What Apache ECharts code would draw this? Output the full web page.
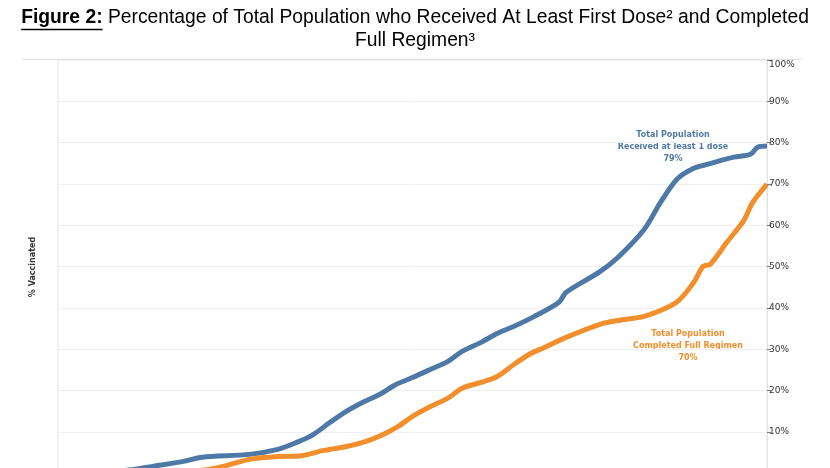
<!DOCTYPE html>
<html>
<head>
<meta charset="utf-8">
<script src="https://cdn.jsdelivr.net/npm/echarts@6/dist/echarts.min.js"></script>
<style>
html,body{margin:0;padding:0;background:#fff;}
#chart{width:830px;height:468px;}
</style>
</head>
<body>
<div id="chart"></div>
<script>
// Day index (since start of campaign) and % of total population
const firstDoseDays = [0, 18, 30, 40, 53, 61, 81, 93, 101, 108, 115, 122, 129, 136, 143, 150, 157, 165, 171, 179, 186, 193, 201, 212, 215, 229, 237, 248, 255, 262, 269, 275, 286, 293, 296, 300];
const firstDoseVals = [0, 0.3, 0.8, 1.7, 2.9, 3.9, 4.6, 5.8, 7.5, 9.4, 12.3, 15, 17.2, 19.1, 21.5, 23.2, 25, 27.1, 29.5, 31.7, 33.9, 35.6, 37.8, 41.4, 43.8, 48.7, 52.3, 59, 65.6, 71.2, 73.8, 74.8, 76.5, 77.2, 78.9, 79.2];
const fullDays = [0, 39, 60, 70, 81, 93, 102, 112, 122, 129, 136, 144, 150, 157, 165, 171, 179, 186, 193, 200, 204, 215, 229, 237, 248, 258, 263, 269, 273, 276, 283, 290, 294, 300];
const fullVals = [0, 0.2, 0.7, 1.7, 3.4, 4.1, 4.2, 5.5, 6.5, 7.5, 9, 11.4, 13.8, 16, 18.2, 20.6, 22, 23.5, 26.4, 29, 30, 32.9, 36, 37, 38, 40.2, 42, 46.2, 50.1, 50.6, 55.9, 61, 65.6, 70];
const yTicks = [0, 10, 20, 30, 40, 50, 60, 70, 80, 90, 100];
const titleBold = 'Figure 2:';
const titleRest = ' Percentage of Total Population who Received At Least First Dose² and Completed';
const titleLine2 = 'Full Regimen³';
const firstDoseLabel = ['Total Population', 'Received at least 1 dose', '79%'];
const fullLabel = ['Total Population', 'Completed Full Regimen', '70%'];

const zip = (a, b) => a.map((d, i) => [d, b[i]]);

const FS = 19.3;
const titleFont = { fontFamily: 'Liberation Sans', fontSize: FS, fontWeight: 'normal', color: '#000' };

// measure the first title line to place the underline below "Figure 2:"
const ctx = document.createElement('canvas').getContext('2d');
ctx.font = 'bold ' + FS + 'px "Liberation Sans"';
const wBold = ctx.measureText(titleBold).width;
ctx.font = FS + 'px "Liberation Sans"';
const wRest = ctx.measureText(titleRest).width;
const line1Left = 415 - (wBold + wRest) / 2;

const chart = echarts.init(document.getElementById('chart'));
chart.setOption({
  animation: false,
  backgroundColor: '#fff',
  title: [
    {
      text: '{b|' + titleBold + '}' + titleRest,
      left: 'center', top: 8, padding: 0,
      textStyle: Object.assign({}, titleFont, {
        rich: { b: Object.assign({}, titleFont, { fontWeight: 'bold' }) }
      })
    },
    {
      text: titleLine2,
      left: 'center', top: 31, padding: 0,
      textStyle: titleFont
    }
  ],
  grid: {
    left: 58, width: 709, top: 60, height: 413.4,
    outerBoundsMode: 'none',
    containLabel: false,
    show: true, borderColor: '#e2e2e2', borderWidth: 1
  },
  xAxis: {
    type: 'value', min: 0, max: 300,
    axisLine: { show: false }, axisTick: { show: false },
    axisLabel: { show: false }, splitLine: { show: false }
  },
  yAxis: {
    type: 'value', position: 'right', min: 0, max: 100, interval: 10,
    axisLine: { show: true, onZero: false, lineStyle: { color: '#e2e2e2' } },
    axisTick: { show: true, inside: false, length: 4, lineStyle: { color: '#777' } },
    axisLabel: {
      margin: 2, fontSize: 9, color: '#333', fontFamily: 'DejaVu Sans',
      verticalAlignMaxLabel: 'top',
      formatter: v => yTicks.includes(v) ? v + '%' : ''
    },
    splitLine: { show: true, lineStyle: { color: '#f0f0f0' } }
  },
  graphic: [
    { type: 'line', shape: { x1: 22, y1: 59.5, x2: 803, y2: 59.5 }, style: { stroke: '#e2e2e2', lineWidth: 1 } },
    { type: 'line', shape: { x1: line1Left, y1: 29.5, x2: line1Left + wBold, y2: 29.5 }, style: { stroke: '#000', lineWidth: 1.3 } },
    { type: 'text', x: 33, y: 267, rotation: Math.PI / 2,
      style: { text: '% Vaccinated', fontSize: 8, fontWeight: 'bold', fill: '#333', fontFamily: 'DejaVu Sans', align: 'center', verticalAlign: 'middle' } },
    { type: 'text', x: 673, y: 146.5,
      style: { text: firstDoseLabel.join('\n'), fontSize: 8, lineHeight: 12, fontWeight: 'bold', fill: '#4E79A7', fontFamily: 'DejaVu Sans', align: 'center', verticalAlign: 'middle' } },
    { type: 'text', x: 688, y: 345.5,
      style: { text: fullLabel.join('\n'), fontSize: 8, lineHeight: 12, fontWeight: 'bold', fill: '#F28E2B', fontFamily: 'DejaVu Sans', align: 'center', verticalAlign: 'middle' } }
  ],
  series: [
    {
      name: 'Received at least 1 dose', type: 'line', data: zip(firstDoseDays, firstDoseVals),
      showSymbol: false, smooth: 0.3, lineStyle: { width: 5, color: '#4E79A7' }, itemStyle: { color: '#4E79A7' }
    },
    {
      name: 'Completed Full Regimen', type: 'line', data: zip(fullDays, fullVals),
      showSymbol: false, smooth: 0.3, lineStyle: { width: 5, color: '#F28E2B' }, itemStyle: { color: '#F28E2B' }
    }
  ]
});
</script>
</body>
</html>
